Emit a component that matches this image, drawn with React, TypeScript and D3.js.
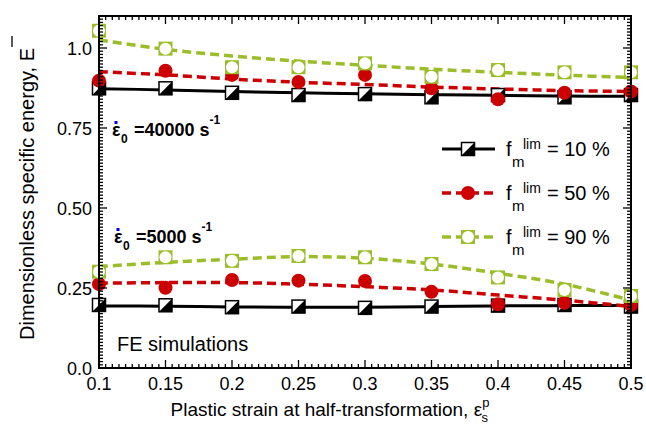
import React from "react";
import * as d3 from "d3";

const strain = [0.1, 0.15, 0.2, 0.25, 0.3, 0.35, 0.4, 0.45, 0.5];

// high strain rate (40000 s^-1)
const f10Hi = [0.874, 0.874, 0.86, 0.853, 0.856, 0.846, 0.853, 0.846, 0.853];
const f50Hi = [0.898, 0.929, 0.916, 0.894, 0.916, 0.874, 0.84, 0.86, 0.864];
const f90Hi = [1.054, 0.998, 0.94, 0.94, 0.952, 0.91, 0.931, 0.924, 0.924];
const f10HiFit = [0.873, 0.869, 0.864, 0.86, 0.857, 0.854, 0.852, 0.85, 0.849];
const f50HiFit = [0.926, 0.916, 0.903, 0.893, 0.886, 0.878, 0.872, 0.867, 0.864];
const f90HiFit = [1.025, 0.996, 0.975, 0.959, 0.946, 0.934, 0.924, 0.915, 0.908];

// low strain rate (5000 s^-1)
const f10Lo = [0.197, 0.196, 0.19, 0.192, 0.188, 0.192, 0.195, 0.197, 0.192];
const f50Lo = [0.262, 0.251, 0.275, 0.273, 0.272, 0.238, 0.199, 0.204, 0.197];
const f90Lo = [0.301, 0.346, 0.335, 0.35, 0.346, 0.325, 0.283, 0.244, 0.225];
const f10LoFit = [0.194, 0.193, 0.191, 0.19, 0.19, 0.192, 0.194, 0.195, 0.195];
const f50LoFit = [0.265, 0.267, 0.267, 0.262, 0.254, 0.244, 0.228, 0.212, 0.192];
const f90LoFit = [0.317, 0.33, 0.34, 0.348, 0.343, 0.325, 0.296, 0.262, 0.212];

const xTickVals = [0.1, 0.15, 0.2, 0.25, 0.3, 0.35, 0.4, 0.45, 0.5];
const xTickLabels = ["0.1", "0.15", "0.2", "0.25", "0.3", "0.35", "0.4", "0.45", "0.5"];
const yTickVals = [0, 0.25, 0.5, 0.75, 1.0];
const yTickLabels = ["0.0", "0.25", "0.50", "0.75", "1.0"];
const legendLabels = ["10 %", "50 %", "90 %"];

const W = 646;
const H = 440;
const L = 99, R = 631, T = 16, B = 368;
const RED = "#CC0000";
const GREEN = "#9CBD2A";
const FONT = "'Liberation Sans', Arial, sans-serif";

const x = d3.scaleLinear().domain([0.1, 0.5]).range([L, R]);
const y = d3.scaleLinear().domain([0, 1.1]).range([B, T]);

const line = d3
  .line<number>()
  .x((_, i) => x(strain[i]))
  .y((d) => y(d))
  .curve(d3.curveCatmullRom);

function BlackMarker({ cx, cy, s = 13 }: { cx: number; cy: number; s?: number }) {
  const h = s / 2;
  return (
    <g>
      <rect x={cx - h} y={cy - h} width={s} height={s} fill="#fff" stroke="#000" strokeWidth={1.5} />
      <path d={`M${cx + h},${cy - h}L${cx + h},${cy + h}L${cx - h},${cy + h}Z`} fill="#000" />
    </g>
  );
}
function RedMarker({ cx, cy }: { cx: number; cy: number }) {
  return <circle cx={cx} cy={cy} r={7} fill={RED} />;
}
function GreenMarker({ cx, cy }: { cx: number; cy: number }) {
  return (
    <g>
      <rect x={cx - 7} y={cy - 7} width={14} height={14} fill={GREEN} />
      <circle cx={cx} cy={cy} r={6} fill="#fff" />
    </g>
  );
}

export default function App() {
  const xMinor = d3.range(0, 81).map((i) => 0.1 + i * 0.005);
  const yMinor = d3.range(0, 111).map((i) => i * 0.01);

  const rate = (x0: number, yb: number, label: string) => (
    <g fontFamily={FONT} fontWeight="bold" fill="#000">
      <rect x={x0 + 2.5} y={yb - 15} width={3} height={3} fill="#0000EE" />
      <text x={x0} y={yb} fontSize={18}>ε</text>
      <text x={x0 + 9} y={yb + 7} fontSize={12}>0</text>
      <text x={x0 + 22} y={yb} fontSize={18}>
        {label}
        <tspan fontSize={12} dy={-12}>-1</tspan>
      </text>
    </g>
  );

  return (
    <svg width={W} height={H} style={{ position: "absolute", left: 0, top: 0 }} fontFamily={FONT}>
      <rect width={W} height={H} fill="#fff" />
      {/* lines */}
      <path d={line(f10HiFit)!} fill="none" stroke="#000" strokeWidth={3} />
      <path d={line(f10LoFit)!} fill="none" stroke="#000" strokeWidth={3} />
      <path d={line(f50HiFit)!} fill="none" stroke={RED} strokeWidth={3.5} strokeDasharray="9,5" />
      <path d={line(f50LoFit)!} fill="none" stroke={RED} strokeWidth={3.5} strokeDasharray="9,5" />
      <path d={line(f90HiFit)!} fill="none" stroke={GREEN} strokeWidth={3.5} strokeDasharray="9,5" />
      <path d={line(f90LoFit)!} fill="none" stroke={GREEN} strokeWidth={3.5} strokeDasharray="9,5" />
      {/* markers */}
      {[f10Hi, f10Lo].map((arr, k) =>
        arr.map((v, i) => <BlackMarker key={`b${k}${i}`} cx={x(strain[i])} cy={y(v)} />)
      )}
      {[f50Hi, f50Lo].map((arr, k) =>
        arr.map((v, i) => <RedMarker key={`r${k}${i}`} cx={x(strain[i])} cy={y(v)} />)
      )}
      {[f90Hi, f90Lo].map((arr, k) =>
        arr.map((v, i) => <GreenMarker key={`g${k}${i}`} cx={x(strain[i])} cy={y(v)} />)
      )}
      {/* frame and ticks */}
      <rect x={L} y={T} width={R - L} height={B - T} fill="none" stroke="#000" strokeWidth={2} />
      {xMinor.map((v, i) => {
        const major = i % 10 === 0;
        const len = major ? 8 : 4;
        const px = x(v);
        return (
          <g key={`xt${i}`} stroke="#000" strokeWidth={1.3}>
            <line x1={px} x2={px} y1={B} y2={B - len} />
            <line x1={px} x2={px} y1={T} y2={T + len} />
          </g>
        );
      })}
      {yMinor.map((v, i) => {
        const major = i % 25 === 0;
        const len = major ? 8 : 4;
        const py = y(v);
        return (
          <g key={`yt${i}`} stroke="#000" strokeWidth={1.3}>
            <line x1={L} x2={L + len} y1={py} y2={py} />
            <line x1={R} x2={R - len} y1={py} y2={py} />
          </g>
        );
      })}
      {xTickVals.map((v, i) => (
        <text key={`xl${i}`} x={x(v)} y={390} fontSize={18} textAnchor="middle">
          {xTickLabels[i]}
        </text>
      ))}
      {yTickVals.map((v, i) => (
        <text key={`yl${i}`} x={92} y={y(v) + 6.5} fontSize={18} textAnchor="end">
          {yTickLabels[i]}
        </text>
      ))}
      {/* axis titles */}
      <text x={330} y={416} fontSize={19} textAnchor="middle">
        Plastic strain at half-transformation, ε
        <tspan fontSize={13} dy={-9}>p</tspan>
        <tspan fontSize={13} dx={-8} dy={15}>s</tspan>
      </text>
      <g transform="translate(34,194) rotate(-90)">
        <text x={0} y={0} fontSize={20} textAnchor="middle">
          Dimensionless specific energy, E
        </text>
      </g>
      <line x1={12} x2={12} y1={36} y2={47} stroke="#000" strokeWidth={1.3} />
      {/* annotations */}
      {rate(112, 136, "=40000 s")}
      {rate(114, 243, "=5000 s")}
      <text x={117} y={351} fontSize={20}>FE simulations</text>
      {/* legend */}
      {[0, 1, 2].map((k) => {
        const ly = 149 + k * 44;
        const color = k === 0 ? "#000" : k === 1 ? RED : GREEN;
        return (
          <g key={`lg${k}`}>
            <line
              x1={442}
              x2={495}
              y1={ly}
              y2={ly}
              stroke={color}
              strokeWidth={k === 0 ? 3 : 3.5}
              strokeDasharray={k === 0 ? undefined : "9,5"}
            />
            {k === 0 && <BlackMarker cx={468} cy={ly} />}
            {k === 1 && <RedMarker cx={468} cy={ly} />}
            {k === 2 && <GreenMarker cx={468} cy={ly} />}
            <text x={506} y={ly + 7} fontSize={20}>f</text>
            <text x={512} y={ly + 18} fontSize={15}>m</text>
            <text x={523} y={ly} fontSize={14}>lim</text>
            <text x={547} y={ly + 7} fontSize={20}>= {legendLabels[k]}</text>
          </g>
        );
      })}
    </svg>
  );
}
